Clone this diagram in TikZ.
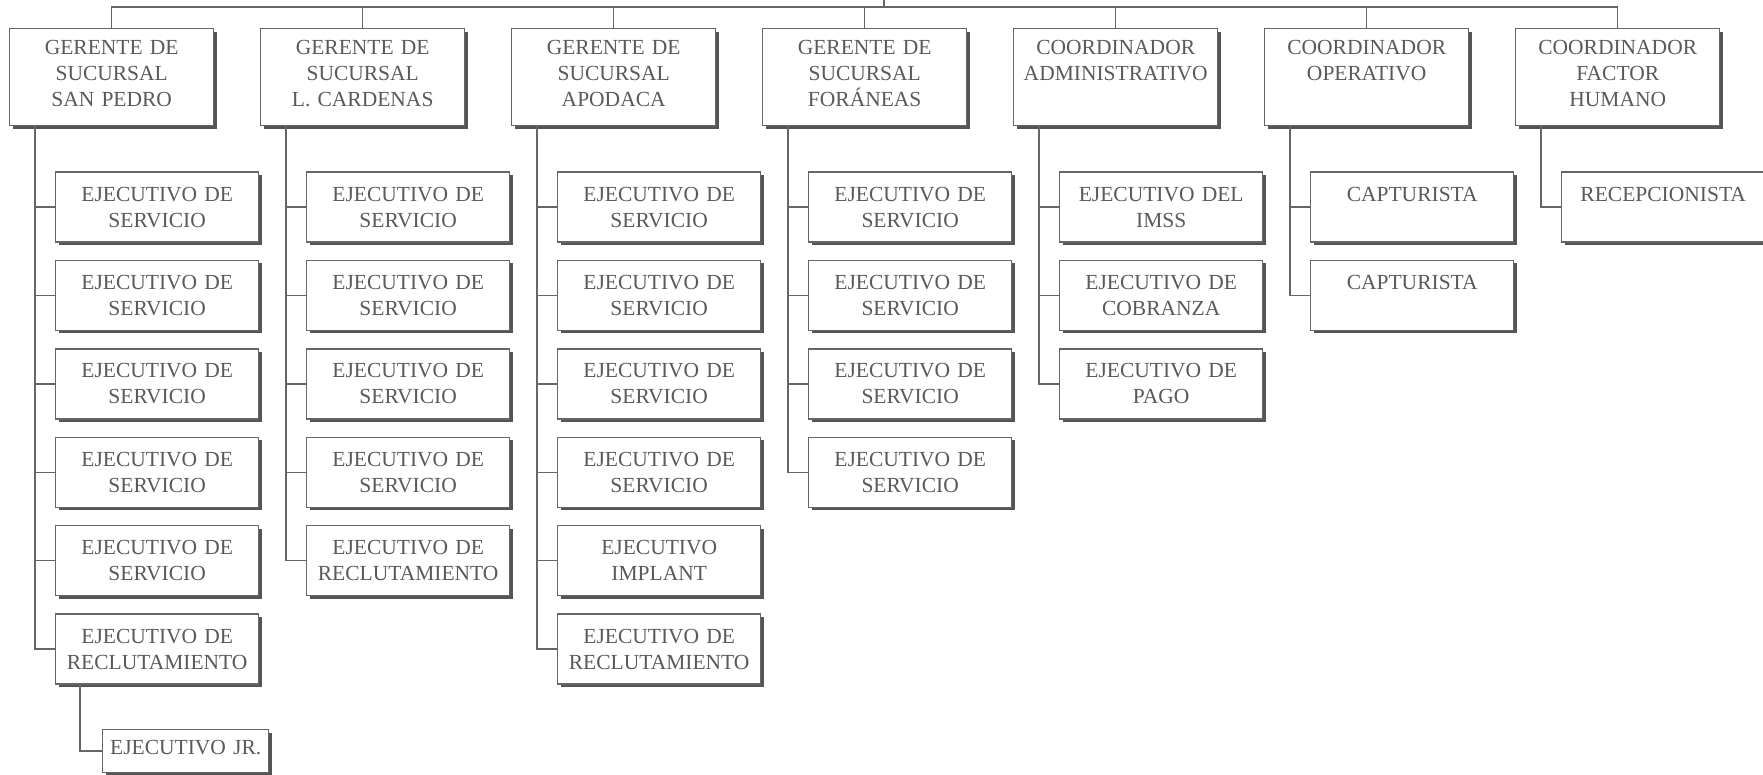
\documentclass[tikz,border=0pt]{standalone}
\usepackage{fontspec}
\setmainfont{Liberation Serif}
\usepackage{tikz}
\usetikzlibrary{positioning,shadows}
\definecolor{tinta}{HTML}{5A5A5A}
\definecolor{linea}{HTML}{666666}
\definecolor{sombra}{HTML}{555555}
\tikzset{
  puesto/.style={rectangle, draw=linea, fill=white, line width=1.4pt, align=center,
                 text=tinta, font=\fontsize{21.5}{26}\selectfont, inner xsep=4pt, text height=14pt,
                 drop shadow={shadow xshift=3pt, shadow yshift=-3pt, fill=sombra, opacity=1}},
  jefe/.style={puesto, text width=196pt, inner ysep=12pt, text depth=59pt},
  ejecutivo/.style={puesto, text width=195pt, inner ysep=15pt, text depth=26pt},
  junior/.style={puesto, text width=158pt, inner ysep=11pt, text depth=7pt},
  rama/.style={draw=linea, line width=1.4pt}
}

\begin{document}
\begin{tikzpicture}[x=1pt, y=-1pt]
  \useasboundingbox (0,0) rectangle (1763,775);
  % gerentes y coordinadores
  \node[jefe, anchor=north west] (g1) at (9,28) {GERENTE DE\\SUCURSAL\\SAN PEDRO};
  \node[jefe, right=45.6pt of g1] (g2) {GERENTE DE\\SUCURSAL\\L. CARDENAS};
  \node[jefe, right=45.6pt of g2] (g3) {GERENTE DE\\SUCURSAL\\APODACA};
  \node[jefe, right=45.6pt of g3] (g4) {GERENTE DE\\SUCURSAL\\FORÁNEAS};
  \node[jefe, right=45.6pt of g4] (g5) {COORDINADOR\\ADMINISTRATIVO};
  \node[jefe, right=45.6pt of g5] (g6) {COORDINADOR\\OPERATIVO};
  \node[jefe, right=45.6pt of g6] (g7) {COORDINADOR\\FACTOR\\HUMANO};
  \coordinate (cima) at (884,0);
  \coordinate (barra) at (884,7);
  \draw[rama] (cima) -- (barra);
  \foreach \g in {g1,g2,g3,g4,g5,g6,g7} \draw[rama] (\g.north) |- (barra);

  % San Pedro
  \node[ejecutivo, below right=45pt and 46pt of g1.south west] (sp1) {EJECUTIVO DE\\SERVICIO};
  \node[ejecutivo, below=17pt of sp1] (sp2) {EJECUTIVO DE\\SERVICIO};
  \node[ejecutivo, below=17pt of sp2] (sp3) {EJECUTIVO DE\\SERVICIO};
  \node[ejecutivo, below=17pt of sp3] (sp4) {EJECUTIVO DE\\SERVICIO};
  \node[ejecutivo, below=17pt of sp4] (sp5) {EJECUTIVO DE\\SERVICIO};
  \node[ejecutivo, below=17pt of sp5] (sp6) {EJECUTIVO DE\\RECLUTAMIENTO};
  \node[junior, below right=44pt and 47pt of sp6.south west] (jr) {EJECUTIVO JR.};
  \foreach \c in {sp1,sp2,sp3,sp4,sp5,sp6} \draw[rama] (g1.south west) ++(26,0) |- (\c.west);
  \draw[rama] (sp6.south west) ++(25,0) |- (jr.west);

  % L. Cardenas
  \node[ejecutivo, below right=45pt and 46pt of g2.south west] (lc1) {EJECUTIVO DE\\SERVICIO};
  \node[ejecutivo, below=17pt of lc1] (lc2) {EJECUTIVO DE\\SERVICIO};
  \node[ejecutivo, below=17pt of lc2] (lc3) {EJECUTIVO DE\\SERVICIO};
  \node[ejecutivo, below=17pt of lc3] (lc4) {EJECUTIVO DE\\SERVICIO};
  \node[ejecutivo, below=17pt of lc4] (lc5) {EJECUTIVO DE\\RECLUTAMIENTO};
  \foreach \c in {lc1,lc2,lc3,lc4,lc5} \draw[rama] (g2.south west) ++(26,0) |- (\c.west);

  % Apodaca
  \node[ejecutivo, below right=45pt and 46pt of g3.south west] (ap1) {EJECUTIVO DE\\SERVICIO};
  \node[ejecutivo, below=17pt of ap1] (ap2) {EJECUTIVO DE\\SERVICIO};
  \node[ejecutivo, below=17pt of ap2] (ap3) {EJECUTIVO DE\\SERVICIO};
  \node[ejecutivo, below=17pt of ap3] (ap4) {EJECUTIVO DE\\SERVICIO};
  \node[ejecutivo, below=17pt of ap4] (ap5) {EJECUTIVO\\IMPLANT};
  \node[ejecutivo, below=17pt of ap5] (ap6) {EJECUTIVO DE\\RECLUTAMIENTO};
  \foreach \c in {ap1,ap2,ap3,ap4,ap5,ap6} \draw[rama] (g3.south west) ++(26,0) |- (\c.west);

  % Foraneas
  \node[ejecutivo, below right=45pt and 46pt of g4.south west] (fo1) {EJECUTIVO DE\\SERVICIO};
  \node[ejecutivo, below=17pt of fo1] (fo2) {EJECUTIVO DE\\SERVICIO};
  \node[ejecutivo, below=17pt of fo2] (fo3) {EJECUTIVO DE\\SERVICIO};
  \node[ejecutivo, below=17pt of fo3] (fo4) {EJECUTIVO DE\\SERVICIO};
  \foreach \c in {fo1,fo2,fo3,fo4} \draw[rama] (g4.south west) ++(26,0) |- (\c.west);

  % administrativo, operativo, factor humano
  \node[ejecutivo, below right=45pt and 46pt of g5.south west] (ad1) {EJECUTIVO DEL\\IMSS};
  \node[ejecutivo, below=17pt of ad1] (ad2) {EJECUTIVO DE\\COBRANZA};
  \node[ejecutivo, below=17pt of ad2] (ad3) {EJECUTIVO DE\\PAGO};
  \foreach \c in {ad1,ad2,ad3} \draw[rama] (g5.south west) ++(26,0) |- (\c.west);
  \node[ejecutivo, below right=45pt and 46pt of g6.south west] (op1) {CAPTURISTA};
  \node[ejecutivo, below=17pt of op1] (op2) {CAPTURISTA};
  \foreach \c in {op1,op2} \draw[rama] (g6.south west) ++(26,0) |- (\c.west);
  \node[ejecutivo, below right=45pt and 46pt of g7.south west] (fh1) {RECEPCIONISTA};
  \draw[rama] (g7.south west) ++(26,0) |- (fh1.west);
\end{tikzpicture}
\end{document}
